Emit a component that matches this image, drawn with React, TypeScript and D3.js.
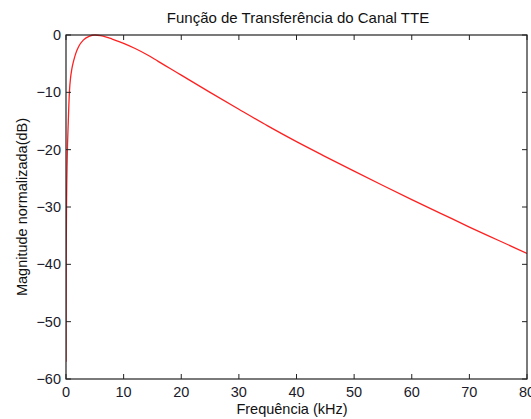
import React from "react";
import * as d3 from "d3";

const freqKHz = [0, 0.02, 0.05, 0.1, 0.2, 0.4, 0.6, 0.8, 1.0, 1.3, 1.7, 2.2, 3, 4, 5, 6, 7, 8, 10, 12, 14, 16, 18, 20, 25, 30, 35, 40, 45, 50, 55, 60, 65, 70, 75, 80];
const magDB = [-57, -45, -36, -29, -22, -15, -9.8, -7.4, -6.0, -4.6, -3.2, -2.0, -0.9, -0.25, 0, -0.1, -0.35, -0.7, -1.45, -2.35, -3.4, -4.6, -5.8, -7.0, -10.0, -12.95, -15.85, -18.6, -21.2, -23.75, -26.25, -28.7, -31.1, -33.5, -35.8, -38.1];
const xTicks = [0, 10, 20, 30, 40, 50, 60, 70, 80];
const yTicks = [0, -10, -20, -30, -40, -50, -60];

const W = 531, H = 419;
const L = 66, R = 527, T = 35, B = 379;
const FONT = "'Liberation Sans', Arial, Helvetica, sans-serif";

export default function App() {
  const x = d3.scaleLinear().domain([0, 80]).range([L, R]);
  const y = d3.scaleLinear().domain([-60, 0]).range([B, T]);
  const fmt = d3.format("d");
  const data = freqKHz.map((f, i) => [f, magDB[i]] as [number, number]);
  const line = d3.line<[number, number]>().x(d => x(d[0])).y(d => y(d[1])).curve(d3.curveMonotoneX);
  const tk = 5;
  return (
    <svg width={W} height={H} style={{ position: "fixed", left: 0, top: 0, background: "#fff" }} fontFamily={FONT}>
      <defs>
        <clipPath id="plotclip">
          <rect x={L} y={T - 1} width={R - L} height={B - T + 2} />
        </clipPath>
      </defs>
      <rect x={0} y={0} width={W} height={H} fill="#fff" />
      <path d={line(data) || ""} fill="none" stroke="#ff2020" strokeWidth={1.3} clipPath="url(#plotclip)" />
      <rect x={L} y={T} width={R - L} height={B - T} fill="none" stroke="#222" strokeWidth={1.2} />
      {xTicks.map(t => (
        <g key={"x" + t}>
          <line x1={x(t)} x2={x(t)} y1={B} y2={B - tk} stroke="#222" />
          <line x1={x(t)} x2={x(t)} y1={T} y2={T + tk} stroke="#222" />
          <text x={x(t)} y={397} textAnchor="middle" fontSize={14.5} fill="#1a1a2a">{fmt(t)}</text>
        </g>
      ))}
      {yTicks.map(t => (
        <g key={"y" + t}>
          <line x1={L} x2={L + tk} y1={y(t)} y2={y(t)} stroke="#222" />
          <line x1={R} x2={R - tk} y1={y(t)} y2={y(t)} stroke="#222" />
          <text x={61} y={y(t)} dy="0.35em" textAnchor="end" fontSize={14.5} fill="#1a1a2a">{fmt(t)}</text>
        </g>
      ))}
      <text x={298} y={23} textAnchor="middle" fontSize={15} fill="#111">Função de Transferência do Canal TTE</text>
      <text x={292} y={414} textAnchor="middle" fontSize={14.5} fill="#111">Frequência (kHz)</text>
      <text transform={`translate(27, ${(T + B) / 2}) rotate(-90)`} textAnchor="middle" fontSize={14.5} fill="#111">Magnitude normalizada(dB)</text>
    </svg>
  );
}
